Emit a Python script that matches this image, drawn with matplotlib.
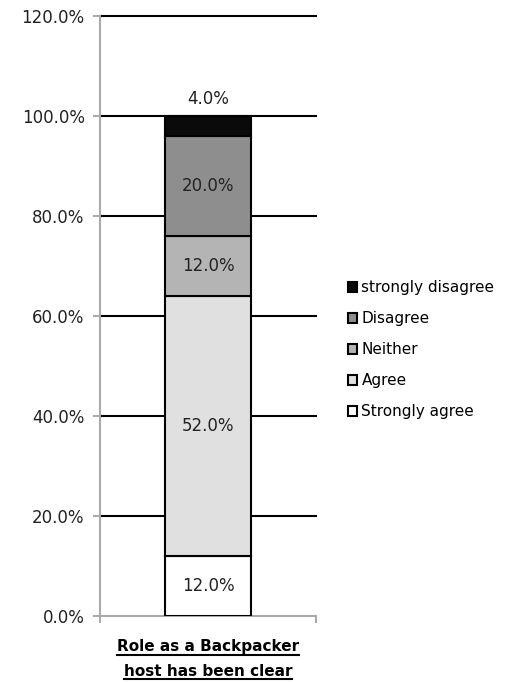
import matplotlib.pyplot as plt
from matplotlib.lines import Line2D

# data
category = "Role as a Backpacker\nhost has been clear"
levels = ["Strongly agree", "Agree", "Neither", "Disagree", "strongly disagree"]
values = [12.0, 52.0, 12.0, 20.0, 4.0]
colors = ["#ffffff", "#e0e0e0", "#b4b4b4", "#8e8e8e", "#0a0a0a"]
yticks = [0, 20, 40, 60, 80, 100, 120]

plt.rcParams['font.family'] = ['DejaVu Sans']

fig = plt.figure(figsize=(5.25, 6.82), dpi=100)
ax = fig.add_axes([0.1905, 0.0968, 0.4114, 0.8798])

bottom = 0
bars = []
for lev, v, c in zip(levels, values, colors):
    b = ax.bar(0, v, width=0.40, bottom=bottom, color=c, edgecolor="black",
               linewidth=1.5, label=lev, zorder=3)
    bars.append(b)
    if v < 8:
        ax.text(0, bottom + v + 1.5, f"{v:.1f}%", ha="center", va="bottom",
                fontsize=12, color="#222222", zorder=4)
    else:
        ax.text(0, bottom + v / 2, f"{v:.1f}%", ha="center", va="center",
                fontsize=12, color="#222222", zorder=4)
    bottom += v

ax.set_xlim(-0.5, 0.5)
ax.set_ylim(0, 120)
ax.set_yticks(yticks)
ax.set_yticklabels([f"{t:.1f}%" for t in yticks], fontsize=12, color="#222222")
ax.set_xticks([-0.5, 0.5])
ax.set_xticklabels([])
ax.tick_params(axis="both", color="#999999", length=5, width=1.2, direction="out")
ax.tick_params(axis="y", pad=6)

# black horizontal gridlines
for t in yticks[1:]:
    ax.axhline(t, color="black", linewidth=1.5, zorder=1, clip_on=False)

for s in ["top", "right"]:
    ax.spines[s].set_visible(False)
ax.spines["left"].set_color("#aaaaaa")
ax.spines["bottom"].set_color("#aaaaaa")
ax.spines["left"].set_linewidth(1.5)
ax.spines["bottom"].set_linewidth(1.5)

# category label, bold and underlined
lines = category.split("\n")
ys = [0.045, 0.0095]
fig.canvas.draw()
r = fig.canvas.get_renderer()
for line, y in zip(lines, ys):
    t = fig.text(0.396, y, line, ha="center", va="baseline", fontsize=11,
                 fontweight="bold", color="black")
    bb = t.get_window_extent(renderer=r).transformed(fig.transFigure.inverted())
    fig.add_artist(Line2D([bb.x0, bb.x1], [y - 0.005, y - 0.005],
                          color="black", linewidth=1.5, transform=fig.transFigure))

handles = bars[::-1]
labels = levels[::-1]
fig.legend(handles, labels, loc="center left", bbox_to_anchor=(0.636, 0.487),
           frameon=False, fontsize=11, handlelength=0.6, handleheight=0.6,
           handletextpad=0.3, labelspacing=1.05)

fig.savefig("out.png", dpi=100)
